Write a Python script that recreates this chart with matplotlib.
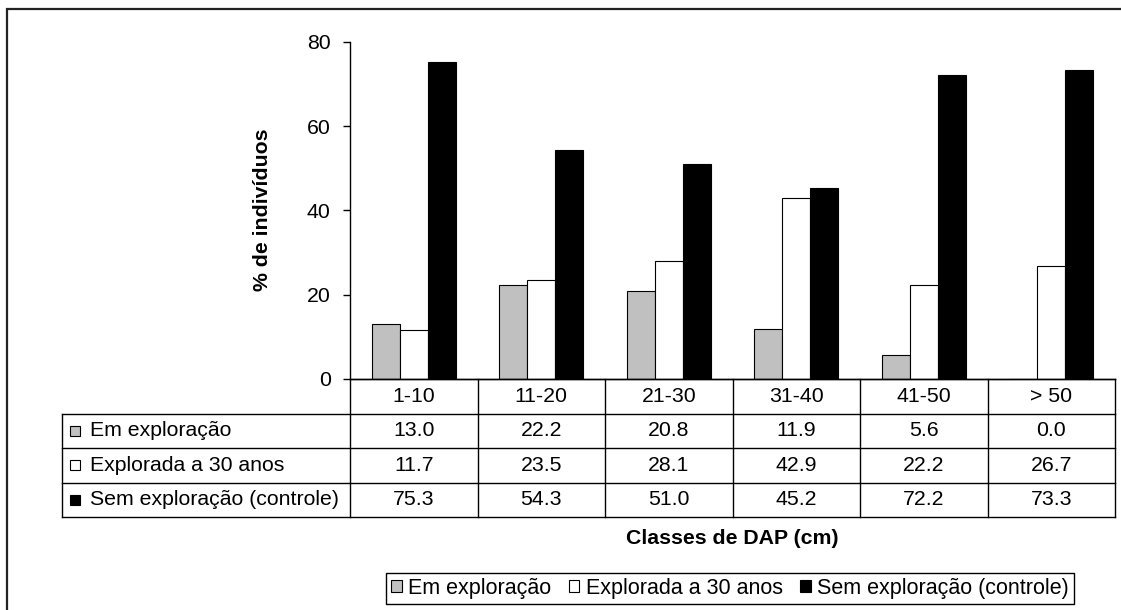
import matplotlib
matplotlib.use('Agg')
import matplotlib.pyplot as plt
from matplotlib.patches import Patch, Rectangle
import numpy as np

# ---------------- data ----------------
categories = ['1-10', '11-20', '21-30', '31-40', '41-50', '> 50']
series_names = ['Em exploração', 'Explorada a 30 anos', 'Sem exploração (controle)']
em_exploracao = [13.0, 22.2, 20.8, 11.9, 5.6, 0.0]
explorada_30 = [11.7, 23.5, 28.1, 42.9, 22.2, 26.7]
sem_exploracao = [75.3, 54.3, 51.0, 45.2, 72.2, 73.3]
y_ticks = [0, 20, 40, 60, 80]
y_label = '% de indivíduos'
x_label = 'Classes de DAP (cm)'

colors = ['#C0C0C0', '#FFFFFF', '#000000']

plt.rcParams['font.family'] = ['Liberation Sans', 'DejaVu Sans']
FS = 15.3

W, H = 1121, 610
fig = plt.figure(figsize=(W / 100, H / 100), dpi=100)


def fx(px):
    return px / W


def fy(py):
    return 1 - py / H


# ---------------- main axes ----------------
ax = fig.add_axes([fx(350), fy(379), fx(1115) - fx(350), fy(41.7) - fy(379)])
n = len(categories)
x = np.arange(n)
bw = 0.22
series = [em_exploracao, explorada_30, sem_exploracao]
for k, (vals, c) in enumerate(zip(series, colors)):
    ax.bar(x + (k - 1) * bw, vals, width=bw, color=c, edgecolor='black',
           linewidth=0.8, zorder=2)

ax.set_xlim(-0.5, n - 0.5)
ax.set_ylim(y_ticks[0], y_ticks[-1])
ax.set_yticks(y_ticks)
ax.set_yticklabels([str(t) for t in y_ticks])
ax.set_xticks([])
ax.tick_params(axis='y', length=5, width=1, pad=9, labelsize=FS, direction='out')
for s in ['top', 'right']:
    ax.spines[s].set_visible(False)
for s in ['left', 'bottom']:
    ax.spines[s].set_linewidth(1.0)
    ax.spines[s].set_color('black')

# ---------------- data table ----------------
TL = 62
tax = fig.add_axes([fx(TL), fy(517), fx(1115) - fx(TL), fy(379) - fy(517)])
colw = (1115 - 350) / n
Lw = (350 - TL) / colw
x0 = -0.5 - Lw
tax.set_xlim(x0, n - 0.5)
tax.set_ylim(len(series) + 1, 0)
tax.axis('off')

lkw = dict(color='black', linewidth=1.0, clip_on=False)
tax.plot([-0.5, n - 0.5], [0, 0], **lkw)
for r in range(1, len(series) + 2):
    tax.plot([x0, n - 0.5], [r, r], **lkw)
tax.plot([x0, x0], [1, len(series) + 1], **lkw)
for i in range(n + 1):
    tax.plot([i - 0.5, i - 0.5], [0, len(series) + 1], **lkw)

for i, cat in enumerate(categories):
    tax.text(i, 0.5, cat, ha='center', va='center', fontsize=FS)
for r, (vals, name, c) in enumerate(zip(series, series_names, colors)):
    yc = r + 1.5
    tax.plot([x0 + (74.5 - TL) / colw], [yc], marker='s', markersize=7.0,
             markerfacecolor=c, markeredgecolor='black', markeredgewidth=0.8,
             linestyle='none', clip_on=False)
    tax.text(x0 + (90 - TL) / colw, yc, name, ha='left', va='center', fontsize=FS)
    for i, v in enumerate(vals):
        tax.text(i, yc, f'{v:.1f}', ha='center', va='center', fontsize=FS)

# ---------------- labels ----------------
fig.text(fx(263), fy(210), y_label, rotation=90, ha='center', va='center',
         fontsize=FS, fontweight='bold')
fig.text(fx(732.5), fy(538), x_label, ha='center', va='center',
         fontsize=FS, fontweight='bold')

# ---------------- legend ----------------
handles = [Patch(facecolor=c, edgecolor='black', linewidth=0.8) for c in colors]
leg = fig.legend(handles, series_names, loc='center',
                 bbox_to_anchor=(fx(730), fy(588.5)), ncol=3, fontsize=15.5,
                 frameon=True, fancybox=False, edgecolor='black',
                 handlelength=0.5, handleheight=0.5, handletextpad=0.3,
                 columnspacing=0.8, borderpad=0.25, borderaxespad=0)
leg.get_frame().set_linewidth(1.0)
leg.get_frame().set_alpha(None)
leg.get_frame().set_facecolor('white')

# ---------------- outer frame ----------------
fig.add_artist(Rectangle((fx(7), -0.5), 2, fy(9) + 0.5, transform=fig.transFigure,
                         fill=False, edgecolor='#222222', linewidth=1.6))

fig.savefig('out.png', dpi=100)
